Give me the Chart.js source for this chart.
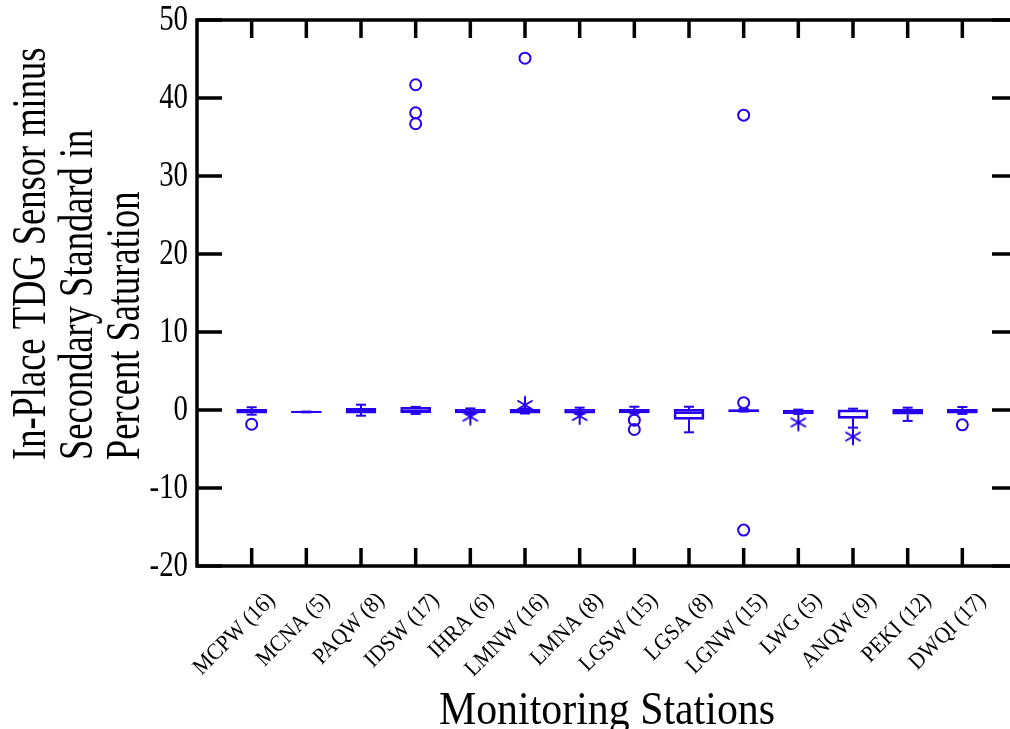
<!DOCTYPE html>
<html>
<head>
<meta charset="utf-8">
<script src="https://cdn.jsdelivr.net/npm/chart.js@4"></script>
<style>
  html, body { margin: 0; padding: 0; background: #fff; overflow: hidden; }
  #grafico { display: block; }
</style>
</head>
<body>
<canvas id="grafico" width="1030" height="729"></canvas>
<script>
/* Datos */
var stations = ['MCPW (16)', 'MCNA (5)', 'PAQW (8)', 'IDSW (17)', 'IHRA (6)', 'LMNW (16)', 'LMNA (8)',
                'LGSW (15)', 'LGSA (8)', 'LGNW (15)', 'LWG (5)', 'ANQW (9)', 'PEKI (12)', 'DWQI (17)'];
var whiskerLow  = [-0.6, -0.3, -0.73, -0.5, -0.5, -0.45, -0.5, -0.45, -2.86, -0.2, -0.5, -2.26, -1.4, -0.5];
var q1          = [-0.42, -0.3, -0.4, -0.38, -0.38, -0.42, -0.4, -0.38, -1.2, -0.25, -0.47, -1.07, -0.55, -0.42];
var median      = [-0.2, -0.25, -0.05, -0.1, -0.2, -0.15, -0.2, -0.15, -0.38, -0.1, -0.2, -0.1, -0.2, -0.2];
var q3          = [0.09, -0.2, 0.2, 0.35, 0.1, 0.09, 0.1, 0.1, 0.09, 0.05, 0, 0, 0.09, 0.09];
var whiskerHigh = [0.35, -0.2, 0.68, 0.4, 0.2, 0.2, 0.3, 0.42, 0.42, 0.15, 0.05, 0.17, 0.3, 0.38];

/* Valores atipicos lejanos (circulos) y cercanos (asteriscos): numero de estacion y valor */
var farStation  = [1, 4, 4, 4, 6, 8, 8, 10, 10, 10, 14];
var farValue    = [-1.83, 41.7, 38.1, 36.7, 45.1, -1.3, -2.5, 37.8, 0.94, -15.4, -1.9];
var nearStation = [5, 6, 7, 11, 12];
var nearValue   = [-0.85, 0.65, -0.77, -1.6, -3.4];

var yTicks = [-20, -10, 0, 10, 20, 30, 40, 50];
var yTitle = ['In-Place TDG Sensor minus', 'Secondary Standard in', 'Percent Saturation'];
var xTitle = 'Monitoring Stations';

var azul = 'rgb(36, 0, 238)';
var serif = '"Liberation Serif", "DejaVu Serif", serif';

/* Asterisco de tres trazos para los atipicos cercanos */
var asterisco = document.createElement('canvas');
asterisco.width = 20;
asterisco.height = 20;
(function () {
    var c = asterisco.getContext('2d');
    c.strokeStyle = azul;
    c.lineWidth = 2;
    c.lineCap = 'round';
    for (var k = 0; k < 3; k++) {
        var a = Math.PI / 2 + k * Math.PI / 3;
        c.beginPath();
        c.moveTo(10 - 8 * Math.cos(a), 10 - 8 * Math.sin(a));
        c.lineTo(10 + 8 * Math.cos(a), 10 + 8 * Math.sin(a));
        c.stroke();
    }
})();

function texto(ctx, t, x, y, ang, sx, font, align, base) {
    ctx.save();
    ctx.translate(x, y);
    ctx.rotate(ang);
    ctx.scale(sx, 1);
    ctx.font = font;
    ctx.textAlign = align;
    ctx.textBaseline = base;
    ctx.fillStyle = '#000';
    ctx.fillText(t, 0, 0);
    ctx.restore();
}

/* Bigotes y medianas */
var bigotes = {
    id: 'bigotes',
    afterDatasetsDraw: function (chart) {
        var ctx = chart.ctx, x = chart.scales.x, y = chart.scales.y;
        ctx.save();
        ctx.strokeStyle = azul;
        ctx.lineWidth = 2;
        stations.forEach(function (s, i) {
            var px = x.getPixelForValue(i + 1);
            var segs = [
                [px, y.getPixelForValue(q3[i]), px, y.getPixelForValue(whiskerHigh[i])],
                [px, y.getPixelForValue(q1[i]), px, y.getPixelForValue(whiskerLow[i])],
                [px - 5, y.getPixelForValue(whiskerHigh[i]), px + 5, y.getPixelForValue(whiskerHigh[i])],
                [px - 5, y.getPixelForValue(whiskerLow[i]), px + 5, y.getPixelForValue(whiskerLow[i])],
                [px - 15, y.getPixelForValue(median[i]), px + 15, y.getPixelForValue(median[i])]
            ];
            segs.forEach(function (sg) {
                ctx.beginPath();
                ctx.moveTo(sg[0], sg[1]);
                ctx.lineTo(sg[2], sg[3]);
                ctx.stroke();
            });
        });
        ctx.restore();
    }
};

/* Marco, marcas hacia dentro y textos */
var marco = {
    id: 'marco',
    afterDraw: function (chart) {
        var ctx = chart.ctx, a = chart.chartArea, x = chart.scales.x, y = chart.scales.y;
        ctx.save();
        ctx.strokeStyle = '#000';
        ctx.lineWidth = 3.5;
        ctx.lineCap = 'square';
        ctx.strokeRect(a.left, a.top, a.right - a.left, a.bottom - a.top);
        ctx.lineCap = 'butt';
        yTicks.forEach(function (v) {
            var py = y.getPixelForValue(v);
            ctx.beginPath();
            ctx.moveTo(a.left, py); ctx.lineTo(a.left + 25, py);
            ctx.moveTo(a.right, py); ctx.lineTo(a.right - 25, py);
            ctx.stroke();
            texto(ctx, String(v), a.left - 9, py + 1, 0, 0.8, '36px ' + serif, 'right', 'middle');
        });
        stations.forEach(function (s, i) {
            var px = x.getPixelForValue(i + 1);
            ctx.beginPath();
            ctx.moveTo(px, a.bottom); ctx.lineTo(px, a.bottom - 18);
            ctx.moveTo(px, a.top); ctx.lineTo(px, a.top + 18);
            ctx.stroke();
            texto(ctx, s, px + 20, a.bottom + 31, -Math.PI / 4, 0.92, '23px ' + serif, 'right', 'middle');
        });
        yTitle.forEach(function (t, k) {
            texto(ctx, t, 45 + k * 47, 460, -Math.PI / 2, 0.76, '48px ' + serif, 'left', 'alphabetic');
        });
        texto(ctx, xTitle, (a.left + 1017) / 2, 724, 0, 0.91, '46px ' + serif, 'center', 'alphabetic');
        ctx.restore();
    }
};

var grafico = new Chart(document.getElementById('grafico').getContext('2d'), {
    type: 'bar',
    data: {
        datasets: [
            {
                type: 'bar',
                data: stations.map(function (s, i) { return { x: i + 1, y: [q1[i], q3[i]] }; }),
                backgroundColor: 'rgba(0,0,0,0)',
                borderColor: azul,
                borderWidth: 2,
                borderSkipped: false,
                barThickness: 30
            },
            {
                type: 'scatter',
                data: farStation.map(function (s, i) { return { x: s, y: farValue[i] }; }),
                pointStyle: 'circle',
                pointRadius: 5.5,
                borderColor: azul,
                backgroundColor: 'rgba(0,0,0,0)',
                borderWidth: 2
            },
            {
                type: 'scatter',
                data: nearStation.map(function (s, i) { return { x: s, y: nearValue[i] }; }),
                pointStyle: asterisco,
                pointRadius: 10
            }
        ]
    },
    options: {
        responsive: false,
        animation: false,
        events: [],
        layout: { padding: { left: 197, right: 13, top: 20, bottom: 163 } },
        plugins: { legend: { display: false }, tooltip: { enabled: false } },
        scales: {
            x: { type: 'linear', min: 0, max: 15, offset: false, display: false },
            y: { type: 'linear', min: -20, max: 50, display: false }
        }
    },
    plugins: [bigotes, marco]
});
</script>
</body>
</html>
